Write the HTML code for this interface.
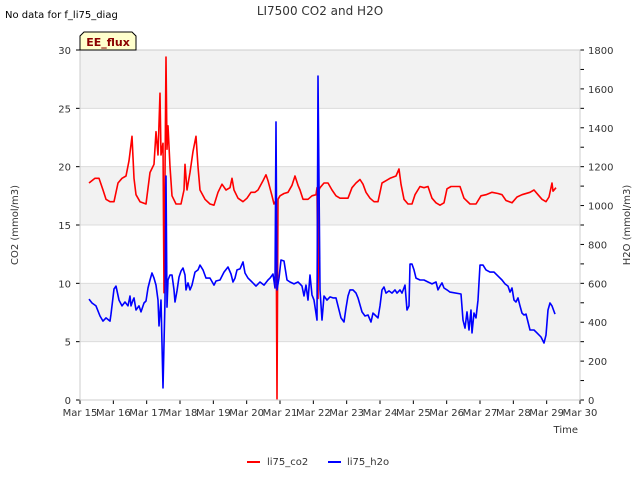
<!DOCTYPE html>
<html><head><meta charset="utf-8"><style>body{margin:0;background:#fff}svg{display:block;font-family:"DejaVu Sans","Liberation Sans",sans-serif}</style></head>
<body>
<svg id="c" width="640" height="480"></svg>
<script>
const xTickLabels=["Mar 15","Mar 16","Mar 17","Mar 18","Mar 19","Mar 20","Mar 21","Mar 22","Mar 23","Mar 24","Mar 25","Mar 26","Mar 27","Mar 28","Mar 29","Mar 30"];
const co2Ticks=[0,5,10,15,20,25,30];
const h2oTicks=[0,200,400,600,800,1000,1200,1400,1600,1800];
const co2Px=[89,95,99,103,106,110,114,118,122,126,129,132,134,136,140,146,150,154,156,158,160,161,163,164,166,167,168,170,172,176,181,184,185,187,190,193,196,198,200,205,210,214,218,222,226,230,232,234,238,243,247,251,255,258,263,266,268,272,274,276,277,278,280,284,288,292,295,298,300,303,308,312,316,317,318,319,320,324,328,332,336,340,348,352,356,360,363,366,370,374,378,382,386,390,396,399,401,404,408,412,415,420,424,428,432,436,440,444,447,451,456,460,464,470,476,481,486,492,498,502,506,512,517,522,530,534,538,542,546,549,552,553,556];
const co2Vals=[18.6,19.0,19.0,18,17.2,17.0,17.0,18.6,19.0,19.2,20.5,22.6,19,17.6,17.0,16.8,19.5,20.2,23,21,26.3,21,22,9.2,29.4,21.5,23.5,20,17.5,16.8,16.8,18,20.2,18,19.5,21.3,22.6,20,18,17.2,16.8,16.7,17.8,18.5,18.0,18.2,19.0,18,17.3,17.0,17.3,17.8,17.8,18.0,18.8,19.3,18.8,17.5,16.8,17.1,0.1,17.2,17.5,17.7,17.8,18.4,19.2,18.4,18,17.2,17.2,17.5,17.6,18.2,8.7,18.0,18.2,18.6,18.6,18.0,17.5,17.3,17.3,18.2,18.6,18.9,18.5,17.8,17.3,17,17,18.6,18.8,19,19.2,19.8,18.5,17.2,16.8,16.8,17.6,18.3,18.2,18.3,17.3,16.9,16.7,16.9,18.1,18.3,18.3,18.3,17.3,16.8,16.8,17.5,17.6,17.8,17.7,17.6,17.1,16.9,17.4,17.6,17.8,18.0,17.6,17.2,17.0,17.4,18.6,17.9,18.2];
const h2oPx=[89,92,96,100,103,106,110,111,114,116,119,122,125,128,130,131,133,134,136,139,141,144,146,148,150,152,154,156,158,159,161,163,165,166,167,168,170,172,174,175,177,179,181,183,185,186,188,190,192,195,198,200,203,206,210,214,216,220,224,228,231,233,235,237,240,243,245,248,252,256,260,264,268,270,273,275,276,277,279,281,284,287,290,294,298,300,302,304,306,308,310,312,314,317,318,320,322,324,327,330,333,336,338,341,344,346,348,350,353,356,358,362,365,368,371,373,375,378,380,382,384,386,389,392,395,397,400,402,405,407,409,410,412,414,416,420,424,428,432,436,438,440,442,444,447,450,461,463,465,467,469,471,472,474,476,478,480,483,486,490,494,498,502,505,508,510,512,514,516,518,520,522,524,526,528,530,534,537,541,544,546,548,550,552,555];
const h2oVals=[519,499,484,432,406,422,406,442,571,586,514,484,504,484,535,484,514,525,463,484,453,499,509,576,617,653,627,591,514,381,514,62,514,1152,478,617,643,643,566,504,561,632,663,679,643,566,602,566,591,658,669,694,669,627,627,591,612,617,658,684,648,607,627,669,674,710,653,627,607,586,607,591,617,627,648,576,1430,566,627,720,715,617,607,597,607,597,586,535,591,514,643,540,514,411,1666,566,411,535,514,530,525,525,484,422,401,473,535,566,566,550,525,453,432,437,401,447,437,422,484,566,581,550,561,550,566,550,566,550,591,463,484,699,699,669,627,617,617,607,597,607,566,586,602,576,566,555,545,411,370,453,360,463,345,447,422,514,694,694,669,658,658,637,617,597,586,555,576,514,504,525,484,447,437,442,401,360,360,345,324,293,334,463,499,484,442];
const NS="http://www.w3.org/2000/svg",svg=document.getElementById('c');
const L=80,R=580,T=50,B=400;
const xS=d=>L+(d-15)*(R-L)/15, yC=v=>B-v*(B-T)/30, yH=v=>B-v*(B-T)/1800;
const pxToDay=p=>15+(p-80)*15/500;
function el(t,a,txt){const e=document.createElementNS(NS,t);for(const k in a)e.setAttribute(k,a[k]);if(txt!==undefined)e.textContent=txt;svg.appendChild(e);return e;}
for(let i=0;i<6;i++){const v0=i*5;if(i%2==1){const r=el('rect',{x:L,y:yC(v0+5),width:R-L,height:yC(v0)-yC(v0+5),fill:'#f2f2f2'});}}
co2Ticks.forEach(v=>{const g=el('line',{x1:L,x2:R,y1:yC(v),y2:yC(v),stroke:'#dcdcdc'});
el('line',{x1:L-4,x2:L,y1:yC(v),y2:yC(v),stroke:'#000'});
const t=el('text',{x:L-9,y:yC(v)+4,'text-anchor':'end','font-size':10,fill:'#333'},v);});
for(let v=0;v<=1800;v+=100){el('line',{x1:R,x2:R+4,y1:yH(v),y2:yH(v),stroke:'#000'});}
h2oTicks.forEach(v=>{const t=el('text',{x:R+8,y:yH(v)+4,'font-size':10,fill:'#333'},v);});
xTickLabels.forEach((s,i)=>{const x=xS(15+i);el('line',{x1:x,x2:x,y1:B,y2:B+4,stroke:'#000'});const t=el('text',{x:x,y:B+16,'text-anchor':'middle','font-size':10,fill:'#333'},s);});
const ax=el('rect',{x:L,y:T,width:R-L,height:B-T,fill:'none',stroke:'#ccc'});
function line(px,vals,y,c,n){const d=px.map((p,i)=>(i?'L':'M')+xS(pxToDay(p)).toFixed(1)+','+y(vals[i]).toFixed(1)).join('');const e=el('path',{d:d,fill:'none',stroke:c,'stroke-width':1.6,'stroke-linejoin':'round'});}
line(co2Px,co2Vals,yC,'#ff0000','co2-line');
line(h2oPx,h2oVals,yH,'#0000ff','h2o-line');
let t;
t=el('text',{x:320,y:15,'text-anchor':'middle','font-size':12,fill:'#333'},'LI7500 CO2 and H2O');
t=el('text',{x:5,y:18,'font-size':10,fill:'#000'},'No data for f_li75_diag');
t=el('path',{d:'M80,50 L80,36 L84,32 L132,32 L136,36 L136,50 Z',fill:'#ffffcc',stroke:'#000'});
t=el('text',{x:108,y:46,'text-anchor':'middle','font-size':11,'font-weight':'bold',fill:'#8b0000'},'EE_flux');
t=el('text',{x:18,y:225,'text-anchor':'middle','font-size':10,fill:'#333',transform:'rotate(-90 18 225)'},'CO2 (mmol/m3)');
t=el('text',{x:630,y:225,'text-anchor':'middle','font-size':10,fill:'#333',transform:'rotate(-90 630 225)'},'H2O (mmol/m3)');
t=el('text',{x:578,y:433,'text-anchor':'end','font-size':10,fill:'#333'},'Time');
t=el('line',{x1:247,x2:260,y1:462,y2:462,stroke:'#ff0000','stroke-width':2});
t=el('text',{x:267,y:465,'font-size':10,fill:'#333'},'li75_co2');
t=el('line',{x1:328,x2:341,y1:462,y2:462,stroke:'#0000ff','stroke-width':2});
t=el('text',{x:347,y:465,'font-size':10,fill:'#333'},'li75_h2o');
</script>
</body></html>
